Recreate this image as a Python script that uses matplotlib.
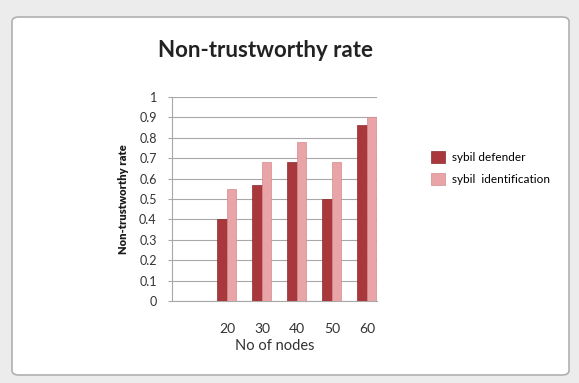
import matplotlib.pyplot as plt
import numpy as np
from matplotlib.patches import FancyBboxPatch

# 数据
categories = ['', '20', '30', '40', '50', '60']
defender = [np.nan, 0.40, 0.57, 0.68, 0.50, 0.86]
identification = [np.nan, 0.55, 0.68, 0.78, 0.68, 0.90]
yticks = np.arange(0, 1.01, 0.1)

plt.rcParams['font.family'] = ['Lato', 'DejaVu Sans']

fig = plt.figure(figsize=(5.79, 3.83), dpi=100)
fig.patch.set_facecolor('#ececec')

# 图表外框 (Excel 风格)
box = FancyBboxPatch((12 / 579, 8 / 383), 557 / 579, 358 / 383,
                     boxstyle='round,pad=0,rounding_size=0.012',
                     transform=fig.transFigure, facecolor='white',
                     edgecolor='#b0b0b0', linewidth=1.2, zorder=-5)
fig.add_artist(box)

ax = fig.add_axes([172 / 579, 0.214, 205 / 579, 0.533])
ax.set_zorder(1)
ax.set_facecolor('none')

x = np.arange(len(categories))
w = 0.27
ax.bar(x - w / 2, defender, w, color='#a8383c', edgecolor='#8c2a2e',
       linewidth=0.5, label='sybil defender', zorder=3)
ax.bar(x + w / 2, identification, w, color='#e8a4a6', edgecolor='#d48a8c',
       linewidth=0.5, label='sybil  identification', zorder=3)

ax.set_xlim(-0.57, 5.29)
ax.set_ylim(0, 1)
ax.set_yticks(yticks)
ax.set_yticklabels(['0', '0.1', '0.2', '0.3', '0.4', '0.5', '0.6', '0.7',
                    '0.8', '0.9', '1'])
ax.set_xticks(x)
ax.set_xticklabels(categories)
ax.yaxis.grid(True, color='#a8a8a8', linewidth=0.8, zorder=0)
ax.set_axisbelow(True)
for s in ['top', 'right']:
    ax.spines[s].set_visible(False)
ax.spines['left'].set_color('#a8a8a8')
ax.spines['bottom'].set_color('#a8a8a8')
ax.tick_params(axis='x', length=0, labelsize=10, colors='#333333', pad=16)
ax.tick_params(axis='y', length=3, color='#a8a8a8', labelsize=9,
               colors='#333333', pad=8)

ax.set_xlabel('No of nodes', fontsize=10.5, color='#333333', labelpad=3)
ax.set_ylabel('Non-trustworthy rate', fontsize=8, fontweight='heavy',
              color='#1a1a1a', labelpad=7)

fig.text(266 / 579, 0.868, 'Non-trustworthy rate', ha='center', va='center',
         fontsize=16, fontweight='bold', color='#222222', zorder=2)

leg = fig.legend(loc='upper left', bbox_to_anchor=(420 / 579, 1 - 140 / 383),
                 frameon=False, fontsize=8.5, handlelength=1.2,
                 handleheight=1.2, labelspacing=0.9, handletextpad=0.6)
leg.set_zorder(2)

plt.savefig('out.png', dpi=100, facecolor=fig.get_facecolor())
